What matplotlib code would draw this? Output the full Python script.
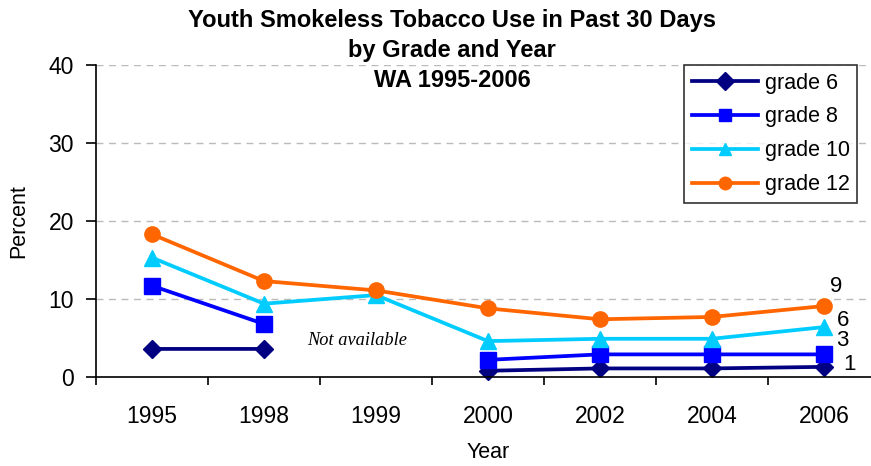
import numpy as np
import matplotlib.pyplot as plt

# survey years (category axis) and percent using smokeless tobacco
years = ["1995", "1998", "1999", "2000", "2002", "2004", "2006"]
grade6 = [3.6, 3.6, np.nan, 0.8, 1.1, 1.1, 1.3]
grade8 = [11.7, 6.8, np.nan, 2.2, 2.9, 2.9, 2.9]
grade10 = [15.3, 9.4, 10.5, 4.6, 4.9, 4.9, 6.4]
grade12 = [18.3, 12.3, 11.1, 8.8, 7.4, 7.7, 9.1]
end_labels = ["1", "3", "6", "9"]
title_lines = ["Youth Smokeless Tobacco Use in Past 30 Days", "by Grade and Year", "WA 1995-2006"]

plt.rcParams["font.family"] = ["Liberation Sans", "DejaVu Sans"]

W, H = 871, 466
fig = plt.figure(figsize=(W / 100, H / 100), dpi=100)
ax = fig.add_axes([96 / W, 1 - 377 / H, 784 / W, 312 / H])

x = np.arange(len(years))
series = [
    ("grade 6", grade6, "#000080", "D", 9.5),
    ("grade 8", grade8, "#0000FF", "s", 11),
    ("grade 10", grade10, "#00CCFF", "^", 12),
    ("grade 12", grade12, "#FF6600", "o", 11),
]
for name, vals, color, marker, ms in series:
    ax.plot(x, vals, color=color, marker=marker, markersize=ms,
            linewidth=2.7, label=name, clip_on=False)

# value labels next to the 2006 points (offsets in points)
offsets = [(14, 1.5), (9, 10), (9, 5), (4.5, 14)]
for (name, vals, *_), lab, off in zip(series, end_labels, offsets):
    ax.annotate(lab, (x[-1], vals[-1]), xytext=off, textcoords="offset points",
                fontsize=16, ha="left", va="center")

ax.text(1.83, 4.7, "Not available", fontsize=13.2, style="italic",
        family=["Liberation Serif", "DejaVu Serif"], ha="center", va="center")

ax.set_xlim(-0.5, len(years) - 0.5)
ax.set_ylim(0, 40)
ax.set_yticks([0, 10, 20, 30, 40])
ax.set_xticks(x)
ax.set_xticklabels(years)
ax.set_xticks(np.arange(len(years) + 1) - 0.5, minor=True)
ax.tick_params(axis="x", which="major", length=0, pad=20, labelsize=16.5)
ax.tick_params(axis="x", which="minor", length=6, width=1.2, direction="out")
ax.tick_params(axis="y", length=7, width=1.2, direction="out", labelsize=16.5, pad=9)

ax.grid(axis="y", color="#BBBBBB", linestyle=(0, (5, 4)), linewidth=1)
ax.set_axisbelow(True)
for s in ["top", "right"]:
    ax.spines[s].set_visible(False)
ax.spines["left"].set_linewidth(1.2)
ax.spines["bottom"].set_linewidth(1.2)

ax.set_ylabel("Percent", fontsize=15.5, labelpad=14)
fig.text(488 / W, 1 - 453 / H, "Year", fontsize=15.5, ha="center", va="center")

for line, base in zip(title_lines, [27, 57, 87]):
    fig.text(452 / W, 1 - base / H, line, ha="center", va="baseline",
             fontsize=17, fontweight="bold")

leg = ax.legend(loc="upper left", bbox_to_anchor=(684 / W, 1 - 65 / H),
                bbox_transform=fig.transFigure, fontsize=15.5, frameon=True,
                fancybox=False, edgecolor="black", borderpad=0.35,
                labelspacing=0.6, handlelength=3.1, handletextpad=0.3,
                borderaxespad=0)
leg.get_frame().set_linewidth(1.2)
for h in leg.legend_handles:
    h.set_markersize(9)

fig.savefig("out.png", dpi=100)
